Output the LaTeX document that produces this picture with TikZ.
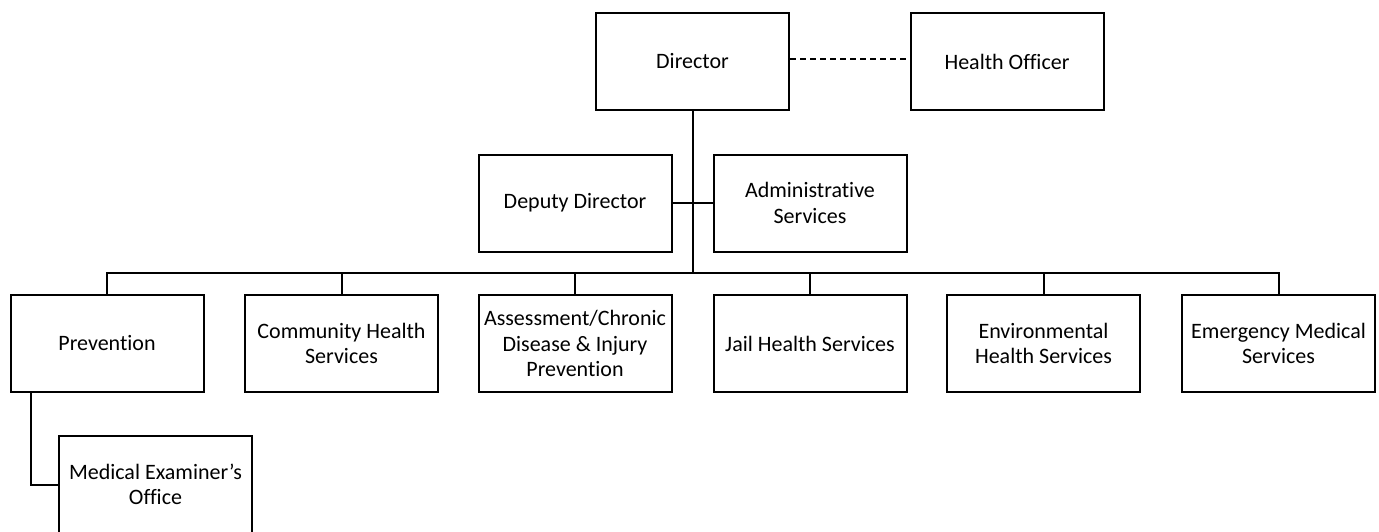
\documentclass[tikz,border=0pt]{standalone}
\usepackage{fontspec}
\setmainfont{Carlito}[Ligatures={NoCommon}]
\begin{document}
\begin{tikzpicture}[x=1pt,y=-1pt,
  box/.style={draw,line width=2pt,minimum width=193pt,minimum height=97pt,align=center,inner sep=0pt,font=\fontsize{22}{25.5}\selectfont},
  conn/.style={line width=2pt}]
\useasboundingbox (0,0) rectangle (1379,531);
\node[box] (dir) at (692.5,61.5) {Director};
\node[box] (ho) at (1007,61.5) {Health Officer};
\node[box] (dep) at (575,203) {Deputy Director};
\node[box] (adm) at (810,203) {Administrative\\Services};
\node[box] (prev) at (107,343.5) {Prevention};
\node[box] (chs) at (341.5,343.5) {Community Health\\Services};
\node[box] (acd) at (575,343.5) {Assessment/Chronic\\Disease \& Injury\\Prevention};
\node[box] (jail) at (810,343.5) {Jail Health Services};
\node[box] (env) at (1043.5,343.5) {Environmental\\Health Services};
\node[box] (ems) at (1278.5,343.5) {Emergency Medical\\Services};
\node[box] (me) at (155.5,484.5) {Medical Examiner’s\\Office};
\coordinate (bus) at (692.5,273);
\draw[line width=2pt,dash pattern=on 6pt off 4pt] ([yshift=2.5pt]dir.east) -- ([yshift=2.5pt]ho.west);
\draw[conn] (dir.south) -- (bus);
\draw[conn] (dep.east) -- (adm.west);
\draw[conn] (prev.north) |- (bus) -| (ems.north);
\foreach \n in {chs,acd,jail,env}{\draw[conn] (\n.north) -- (\n.north |- bus);}
\draw[conn] ([xshift=21pt]prev.south west) |- (me.west);
\end{tikzpicture}
\end{document}
